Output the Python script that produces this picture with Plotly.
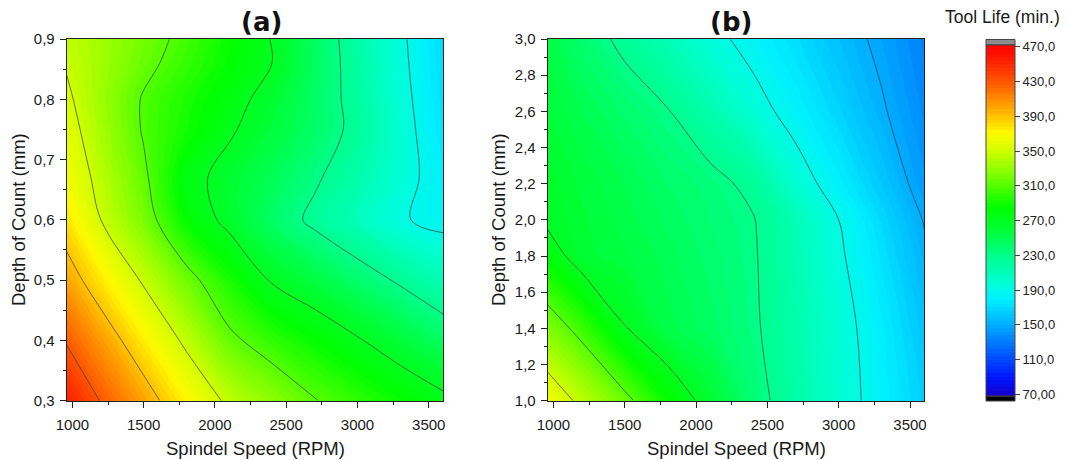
import plotly.graph_objects as go

# ---------------- data ----------------
speed = [960, 1200, 1500, 1800, 2100, 2400, 2700, 3000, 3300, 3600]

depth_a = [0.3, 0.4, 0.5, 0.6, 0.67, 0.75, 0.8, 0.86, 0.9]
life_a = [
    [455, 429, 401, 372, 345, 328, 311, 299, 287, 275],
    [428, 404, 375, 345, 315, 299, 286, 272, 258, 244],
    [401, 377, 347, 318, 292, 268, 255, 241, 227, 212],
    [378, 350, 321, 285, 264, 243, 225, 210, 192, 184],
    [367, 343, 314, 278, 262, 248, 233, 216, 198, 180],
    [359, 336, 308, 290, 273, 257, 242, 224, 199, 174],
    [354, 333, 308, 293, 278, 262, 243, 222, 197, 172],
    [348, 334, 316, 300, 285, 270, 245, 220, 195, 170],
    [345, 334, 319, 304, 287, 269, 244, 219, 194, 169],
]

depth_b = [1.0, 1.4, 1.8, 2.0, 2.2, 2.6, 3.0]
life_b = [
    [367, 344, 316, 287, 261, 238, 218, 200, 181, 165],
    [324, 302, 271, 252, 244, 233, 216, 198, 179, 160],
    [281, 260, 255, 248, 240, 232, 213, 193, 173, 153],
    [266, 259, 252, 245, 238, 231, 211, 190, 169, 149],
    [264, 257, 250, 242, 236, 225, 200, 180, 162, 143],
    [258, 250, 241, 231, 215, 198, 182, 167, 152, 137],
    [253, 240, 225, 211, 196, 183, 171, 158, 146, 133],
]

x_ticks = [1000, 1500, 2000, 2500, 3000, 3500]
x_ticklabels = ["1000", "1500", "2000", "2500", "3000", "3500"]
ya_ticks = [0.3, 0.4, 0.5, 0.6, 0.7, 0.8, 0.9]
ya_ticklabels = ["0,3", "0,4", "0,5", "0,6", "0,7", "0,8", "0,9"]
yb_ticks = [1.0, 1.2, 1.4, 1.6, 1.8, 2.0, 2.2, 2.4, 2.6, 2.8, 3.0]
yb_ticklabels = ["1,0", "1,2", "1,4", "1,6", "1,8", "2,0", "2,2", "2,4", "2,6", "2,8", "3,0"]
cb_ticks = [70, 110, 150, 190, 230, 270, 310, 350, 390, 430, 470]
cb_ticklabels = ["70,00", "110,0", "150,0", "190,0", "230,0", "270,0",
                 "310,0", "350,0", "390,0", "430,0", "470,0"]

# ---------------- style ----------------
# the page body has an 8px margin, so the figure is drawn 8px in from the corner
OFF = 8
W, H = 1067 - OFF, 460 - OFF
zmin, zmax = 70, 470
rainbow = [
    [0.0, "rgb(20,0,200)"],
    [0.05, "rgb(0,20,255)"],
    [0.1125, "rgb(0,80,255)"],
    [0.2, "rgb(0,170,255)"],
    [0.275, "rgb(0,240,255)"],
    [0.325, "rgb(0,255,210)"],
    [0.4, "rgb(0,255,140)"],
    [0.475, "rgb(0,255,50)"],
    [0.5375, "rgb(0,255,0)"],
    [0.625, "rgb(120,255,0)"],
    [0.7, "rgb(210,255,0)"],
    [0.75, "rgb(255,250,0)"],
    [0.8125, "rgb(255,175,0)"],
    [0.9, "rgb(255,80,0)"],
    [0.975, "rgb(255,15,0)"],
    [1.0, "rgb(255,0,0)"],
]

def px_x(p):
    return (p - OFF) / W

def px_y(p):
    return 1 - (p - OFF) / H

fig = go.Figure()

for xa, ya, depth, life in [("x", "y", depth_a, life_a), ("x2", "y2", depth_b, life_b)]:
    fig.add_trace(go.Contour(
        x=speed, y=depth, z=life, xaxis=xa, yaxis=ya,
        coloraxis="coloraxis",
        contours=dict(start=zmin, end=zmax, size=4, coloring="fill", showlines=False),
        line=dict(width=0),
        hoverinfo="skip",
    ))
    fig.add_trace(go.Contour(
        x=speed, y=depth, z=life, xaxis=xa, yaxis=ya,
        contours=dict(start=zmin, end=zmax, size=40, coloring="none", showlines=True),
        line=dict(color="#3a3a3a", width=0.7),
        showscale=False,
        hoverinfo="skip",
    ))

font_main = "Liberation Sans, Arial, sans-serif"
axis_common = dict(
    showline=True, linecolor="#222", linewidth=1, mirror=True,
    ticks="outside", ticklen=6, tickwidth=1, tickcolor="#222",
    tickfont=dict(family=font_main, size=15, color="#1a1a1a"),
    showgrid=False, zeroline=False, tickmode="array",
    automargin=False,
)
x_extra = dict(ticklabelstandoff=4,
               minor=dict(ticks="outside", ticklen=3, tickcolor="#222", tick0=1000, dtick=250))

fig.update_layout(
    width=W, height=H,
    margin=dict(l=0, r=0, t=0, b=0, pad=0, autoexpand=False),
    paper_bgcolor="white", plot_bgcolor="white",
    showlegend=False,
    xaxis=dict(axis_common, **x_extra, domain=[px_x(66.7), px_x(443)], range=[960, 3600],
               tickvals=x_ticks, ticktext=x_ticklabels, anchor="y"),
    yaxis=dict(axis_common, ticklabelstandoff=2, domain=[px_y(400.7), px_y(39)], range=[0.3, 0.9],
               tickvals=ya_ticks, ticktext=ya_ticklabels, anchor="x",
               minor=dict(ticks="outside", ticklen=3, tickcolor="#222", tick0=0.3, dtick=0.05)),
    xaxis2=dict(axis_common, **x_extra, domain=[px_x(547.7), px_x(924.3)], range=[960, 3600],
                tickvals=x_ticks, ticktext=x_ticklabels, anchor="y2"),
    yaxis2=dict(axis_common, ticklabelstandoff=2, domain=[px_y(400.7), px_y(39)], range=[1.0, 3.0],
                tickvals=yb_ticks, ticktext=yb_ticklabels, anchor="x2",
                minor=dict(ticks="outside", ticklen=3, tickcolor="#222", tick0=1.0, dtick=0.1)),
    coloraxis=dict(
        colorscale=rainbow, cmin=zmin, cmax=zmax,
        colorbar=dict(
            thickness=29, thicknessmode="pixels",
            len=351, lenmode="pixels",
            x=px_x(986), xanchor="left", xpad=0,
            y=px_y(45), yanchor="top", ypad=0,
            outlinecolor="#444", outlinewidth=1,
            ticks="outside", ticklen=5, tickcolor="#444",
            tickmode="array", tickvals=cb_ticks, ticktext=cb_ticklabels,
            tickfont=dict(family=font_main, size=13, color="#222"),
        ),
    ),
)

# colour bar end caps (above max: gray, below min: black)
fig.add_shape(type="rect", xref="paper", yref="paper",
              x0=px_x(986), x1=px_x(1015), y0=px_y(45), y1=px_y(39.5),
              fillcolor="#8c8c8c", line=dict(color="#444", width=1))
fig.add_shape(type="rect", xref="paper", yref="paper",
              x0=px_x(986), x1=px_x(1015), y0=px_y(401), y1=px_y(396),
              fillcolor="#000000", line=dict(color="#444", width=1))

annotations = [
    dict(text="(a)", x=px_x(261), y=px_y(21.5),
         font=dict(family="DejaVu Sans", size=26, color="#111", weight="bold")),
    dict(text="(b)", x=px_x(731), y=px_y(21.5),
         font=dict(family="DejaVu Sans", size=26, color="#111", weight="bold")),
    dict(text="Spindel Speed (RPM)", x=px_x(255), y=px_y(448),
         font=dict(family=font_main, size=18.5, color="#1a1a1a")),
    dict(text="Spindel Speed (RPM)", x=px_x(736), y=px_y(448),
         font=dict(family=font_main, size=18.5, color="#1a1a1a")),
    dict(text="Depth of Count (mm)", x=px_x(18), y=px_y(220), textangle=-90,
         font=dict(family=font_main, size=18.5, color="#1a1a1a")),
    dict(text="Depth of Count (mm)", x=px_x(498), y=px_y(220), textangle=-90,
         font=dict(family=font_main, size=18.5, color="#1a1a1a")),
    dict(text="Tool Life (min.)", x=px_x(1002), y=px_y(17),
         font=dict(family=font_main, size=17.5, color="#1a1a1a")),
]
for a in annotations:
    fig.add_annotation(xref="paper", yref="paper", showarrow=False,
                       xanchor="center", yanchor="middle", **a)

fig.write_html("out.html")
